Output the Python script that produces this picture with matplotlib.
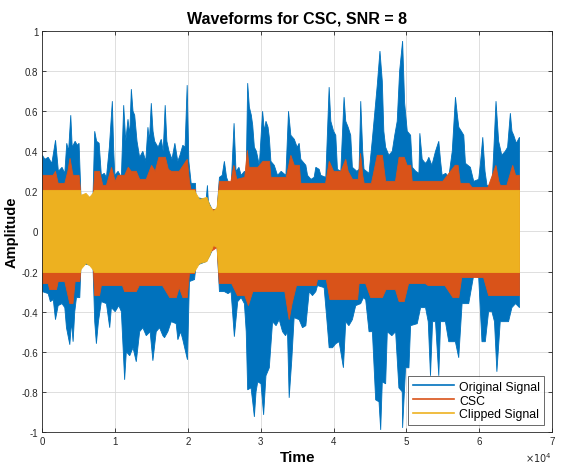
import matplotlib
matplotlib.use('Agg')
import matplotlib.pyplot as plt
from matplotlib.lines import Line2D

# envelope knots (sample index, amplitude)
orig_top_x = [0, 350, 800, 1300, 1810, 2200, 2700, 3080, 3350, 3600, 3900, 4100, 4500, 4800, 5040, 5230, 5300,
              6950, 7190, 7450, 7800, 8100, 8500, 8800, 9200, 9610, 9800, 9950, 10400, 10850, 11170, 11450,
              11760, 12000, 12220, 12450, 12680, 13000, 13360, 13800, 14200, 14500, 14700, 14960, 15200, 15420,
              15900, 16330, 16600, 16870, 17100, 17400, 17800, 18200, 18600, 18900, 19290, 19600, 19890, 20120,
              20440, 21030, 21100, 22500, 22670, 22800, 23300, 24000, 24320, 24700, 25000, 25300, 25700, 25950,
              26330, 26600, 27000, 27300, 27750, 28000, 28200, 28430, 28700, 28890, 29120, 29400, 29800, 30250,
              30500, 30710, 31000, 31170, 31390, 31850, 32300, 32800, 33450, 33810, 34130, 34600, 35000, 35270,
              35500, 36190, 36420, 36900, 37330, 37560, 38020, 38250, 38930, 39390, 39620, 40000, 40300, 40530,
              40990, 41440, 41670, 42000, 42350, 42580, 43200, 43500, 43730, 44000, 44180, 44870, 45300, 45550,
              46000, 46370, 46690, 46900, 47150, 47600, 48060, 48400, 48740, 49070, 49480, 49760, 50120, 50580,
              50810, 51300, 51720, 51850, 52170, 52600, 52850, 53080, 53500, 54000, 54450, 54700, 54910, 55400,
              55820, 56300, 56740, 57000, 57200, 57550, 57880, 58110, 58790, 59250, 59930, 60200, 60490, 60800,
              61070, 61750, 62000, 62310, 62670, 63100, 63580, 63900, 64280, 64500, 64740, 65100, 65536]
orig_top_y = [0.38, 0.36, 0.37, 0.34, 0.455, 0.30, 0.32, 0.29, 0.44, 0.40, 0.58, 0.42, 0.45, 0.43, 0.44, 0.25, 0.17,
              0.17, 0.50, 0.45, 0.44, 0.28, 0.29, 0.27, 0.42, 0.65, 0.40, 0.28, 0.30, 0.27, 0.63, 0.45,
              0.56, 0.48, 0.71, 0.60, 0.58, 0.45, 0.37, 0.40, 0.35, 0.52, 0.45, 0.64, 0.50, 0.45,
              0.42, 0.46, 0.40, 0.63, 0.45, 0.40, 0.36, 0.44, 0.35, 0.38, 0.43, 0.42, 0.73, 0.35,
              0.24, 0.24, 0.17, 0.16, 0.23, 0.15, 0.11, 0.11, 0.27, 0.28, 0.35, 0.27, 0.23, 0.24,
              0.54, 0.30, 0.32, 0.28, 0.30, 0.29, 0.74, 0.62, 0.58, 0.53, 0.42, 0.40, 0.33, 0.60,
              0.50, 0.55, 0.52, 0.47, 0.35, 0.33, 0.28, 0.30, 0.28, 0.60, 0.48, 0.46, 0.42, 0.44,
              0.36, 0.33, 0.28, 0.26, 0.27, 0.32, 0.31, 0.28, 0.27, 0.72, 0.55, 0.50, 0.48, 0.31,
              0.30, 0.67, 0.55, 0.52, 0.48, 0.32, 0.30, 0.31, 0.65, 0.40, 0.31, 0.29, 0.45, 0.55,
              0.73, 0.90, 0.75, 0.50, 0.42, 0.38, 0.40, 0.48, 0.55, 0.80, 0.95, 0.64, 0.50, 0.48,
              0.32, 0.30, 0.29, 0.49, 0.36, 0.34, 0.35, 0.37, 0.33, 0.40, 0.45, 0.35, 0.28, 0.29,
              0.27, 0.40, 0.67, 0.58, 0.52, 0.50, 0.48, 0.34, 0.32, 0.25, 0.26, 0.35, 0.47, 0.30,
              0.23, 0.22, 0.40, 0.65, 0.45, 0.38, 0.40, 0.42, 0.59, 0.50, 0.48, 0.44, 0.47]

orig_bot_x = [0, 800, 1100, 1500, 1800, 2170, 2700, 3080, 3310, 3770, 4000, 4220, 4450, 4680, 5140, 5250, 5300,
              6950, 7190, 7420, 7700, 8100, 8800, 9250, 9480, 10000, 10500, 10850, 11300, 11530, 12000, 12450,
              12900, 13360, 13800, 14270, 14800, 15180, 15640, 16100, 16550, 16780, 17240, 17700, 18380, 18610,
              19000, 19290, 19930, 20200, 20900, 21100, 22500, 23000, 23500, 24000, 24320, 25000, 25500, 25920,
              26370, 26830, 27300, 27750, 28000, 28200, 28660, 28890, 29120, 29350, 29580, 30030, 30390, 30710,
              31170, 31620, 32100, 32530, 32990, 33400, 33670, 33900, 34260, 34580, 35270, 35730, 36190, 36650,
              37100, 37560, 37790, 38700, 39100, 39390, 39850, 40300, 40760, 41350, 41670, 42100, 42580, 43040,
              43720, 44100, 44410, 44870, 45330, 45780, 46240, 46470, 46690, 47150, 47380, 48000, 48520, 48970,
              49430, 49480, 49890, 50350, 50580, 51490, 51950, 52630, 53000, 53310, 53600, 54000, 54450, 54700,
              55360, 55820, 56730, 57190, 57650, 58560, 59240, 59930, 60380, 60840, 61290, 61750, 62100, 62430,
              62890, 64030, 64490, 65000, 65536]
orig_bot_y = [-0.30, -0.31, -0.35, -0.34, -0.44, -0.37, -0.36, -0.38, -0.48, -0.565, -0.45, -0.55, -0.40, -0.33,
              -0.33, -0.22, -0.16, -0.17, -0.45, -0.56, -0.45, -0.35, -0.36, -0.48, -0.38, -0.40, -0.37, -0.40,
              -0.74, -0.60, -0.62, -0.58, -0.65, -0.50, -0.48, -0.52, -0.50, -0.645, -0.50, -0.48, -0.52, -0.53,
              -0.50, -0.45, -0.46, -0.54, -0.50, -0.54, -0.64, -0.25, -0.24, -0.17, -0.15, -0.12, -0.08, -0.08,
              -0.30, -0.30, -0.31, -0.30, -0.525, -0.35, -0.33, -0.36, -0.50, -0.79, -0.78, -0.85, -0.925, -0.80,
              -0.75, -0.76, -0.915, -0.72, -0.68, -0.45, -0.47, -0.44, -0.50, -0.52, -0.50, -0.83, -0.64, -0.43,
              -0.44, -0.48, -0.47, -0.30, -0.32, -0.30, -0.27, -0.28, -0.45, -0.58, -0.58, -0.56, -0.55, -0.68,
              -0.45, -0.47, -0.44, -0.37, -0.36, -0.33, -0.34, -0.50, -0.50, -0.84, -0.85, -0.99, -0.75, -0.76,
              -0.50, -0.52, -0.50, -0.78, -0.80, -0.98, -0.68, -0.68, -0.47, -0.46, -0.38, -0.38, -0.45, -0.72,
              -0.45, -0.45, -0.72, -0.45, -0.45, -0.55, -0.55, -0.63, -0.36, -0.36, -0.22, -0.23, -0.55, -0.55,
              -0.40, -0.40, -0.45, -0.70, -0.45, -0.45, -0.38, -0.36, -0.38]

csc_top_x = [0, 1480, 1800, 2170, 3080, 3500, 3800, 4100, 4220, 5040, 5230, 5300, 6950, 7190, 7860, 8300, 8800,
             9500, 10000, 10400, 11300, 11800, 12200, 12900, 13360, 14270, 15000, 15500, 16000, 16900, 17300,
             17700, 18800, 19900, 20200, 20400, 21000, 21100, 24000, 24320, 25900, 26300, 26700, 27800, 28150,
             28400, 29600, 30300, 31200, 31400, 33500, 34130, 34600, 35300, 35500, 38900, 39400, 40000, 41000,
             41670, 42000, 42600, 43400, 43700, 44000, 44200, 45200, 46000, 46700, 47150, 48500, 49000, 49700,
             50100, 50600, 50800, 55000, 56700, 57100, 57400, 58600, 59000, 61200, 62300, 62700, 62900, 63800,
             64600, 65000, 65536]
csc_top_y = [0.28, 0.28, 0.30, 0.24, 0.24, 0.30, 0.365, 0.30, 0.28, 0.28, 0.21, 0.15, 0.15, 0.30, 0.30, 0.23, 0.23,
             0.32, 0.25, 0.28, 0.28, 0.32, 0.30, 0.30, 0.26, 0.26, 0.33, 0.30, 0.37, 0.37, 0.31,
             0.30, 0.30, 0.36, 0.25, 0.21, 0.21, 0.15, 0.10, 0.25, 0.25, 0.33, 0.26, 0.27, 0.405,
             0.32, 0.32, 0.35, 0.35, 0.27, 0.27, 0.38, 0.33, 0.33, 0.24, 0.24, 0.35, 0.30, 0.30,
             0.36, 0.30, 0.26, 0.26, 0.39, 0.28, 0.24, 0.24, 0.38, 0.38, 0.25, 0.25, 0.37, 0.37,
             0.33, 0.33, 0.25, 0.25, 0.33, 0.33, 0.24, 0.24, 0.22, 0.22, 0.33, 0.25, 0.23, 0.23,
             0.33, 0.28, 0.28]

csc_bot_x = [0, 800, 1000, 1940, 2170, 3080, 3770, 4200, 4500, 5140, 5250, 5300, 6950, 7190, 7860, 8100, 11000,
             11300, 12900, 13300, 16500, 17500, 18400, 18800, 19300, 19900, 20200, 20900, 21100, 24000, 24300,
             26000, 26800, 27800, 28300, 28900, 33300, 33900, 34300, 34900, 37600, 37800, 39000, 39500, 43300,
             43500, 44400, 45100, 46700, 47200, 48500, 49000, 49700, 50300, 52600, 53000, 55300, 56400, 57200,
             57600, 60600, 61300, 65536]
csc_bot_y = [-0.26, -0.26, -0.29, -0.29, -0.25, -0.25, -0.36, -0.36, -0.25, -0.25, -0.21, -0.15, -0.15, -0.32,
             -0.32, -0.27, -0.27, -0.30, -0.30, -0.27, -0.27, -0.33, -0.33, -0.28, -0.33, -0.33, -0.21, -0.21,
             -0.15, -0.08, -0.26, -0.26, -0.32, -0.32, -0.37, -0.30, -0.30, -0.44, -0.36, -0.27, -0.27, -0.24,
             -0.24, -0.34, -0.34, -0.26, -0.26, -0.33, -0.33, -0.29, -0.29, -0.35, -0.35, -0.26, -0.26, -0.27,
             -0.27, -0.33, -0.33, -0.23, -0.23, -0.32, -0.32]

clip_top_x = [0, 5230, 5300, 6000, 6500, 6950, 7190, 20900, 21100, 21600, 22600, 23000, 23500, 24000, 24250, 65536]
clip_top_y = [0.205, 0.205, 0.18, 0.19, 0.17, 0.19, 0.205, 0.205, 0.19, 0.16, 0.17, 0.13, 0.10, 0.12, 0.205, 0.205]
clip_bot_x = [0, 5230, 5300, 6000, 6500, 6950, 7190, 20900, 21100, 21600, 22600, 23000, 23500, 24000, 24250, 65536]
clip_bot_y = [-0.205, -0.205, -0.19, -0.16, -0.17, -0.19, -0.205, -0.205, -0.19, -0.16, -0.15, -0.12, -0.07,
              -0.08, -0.205, -0.205]

labels = ['Original Signal', 'CSC', 'Clipped Signal']
colors = ['#0072BD', '#D95319', '#EDB120']
x_ticks = [0, 10000, 20000, 30000, 40000, 50000, 60000, 70000]
x_tick_labels = ['0', '1', '2', '3', '4', '5', '6', '7']
y_ticks = [-1, -0.8, -0.6, -0.4, -0.2, 0, 0.2, 0.4, 0.6, 0.8, 1]
y_tick_labels = ['-1', '-0.8', '-0.6', '-0.4', '-0.2', '0', '0.2', '0.4', '0.6', '0.8', '1']

plt.rcParams['font.family'] = ['Liberation Sans', 'DejaVu Sans']

fig = plt.figure(figsize=(5.65, 4.64), dpi=100)
ax = fig.add_axes([0.075, 0.067, 0.902, 0.864])


def envelope(top_x, top_y, bot_x, bot_y, color):
    xs = list(top_x) + list(bot_x)[::-1]
    ys = list(top_y) + list(bot_y)[::-1]
    ax.fill(xs, ys, color=color, lw=0.6, ec=color, zorder=2)


envelope(orig_top_x, orig_top_y, orig_bot_x, orig_bot_y, colors[0])
envelope(csc_top_x, csc_top_y, csc_bot_x, csc_bot_y, colors[1])
envelope(clip_top_x, clip_top_y, clip_bot_x, clip_bot_y, colors[2])

ax.set_xlim(0, 70000)
ax.set_ylim(-1, 1)
ax.set_xticks(x_ticks)
ax.set_xticklabels(x_tick_labels)
ax.set_yticks(y_ticks)
ax.set_yticklabels(y_tick_labels)
ax.tick_params(direction='in', length=3, width=0.6, labelsize=7, colors='#262626',
               top=True, right=True, pad=3)
ax.grid(True, color='#d9d9d9', lw=0.6, zorder=0)
ax.set_axisbelow(True)
for s in ax.spines.values():
    s.set_color('#262626')
    s.set_linewidth(0.6)

ax.set_title('Waveforms for CSC, SNR = 8', fontsize=11.5, fontweight='bold', pad=6)
ax.set_xlabel('Time', fontsize=11, fontweight='bold', labelpad=3)
ax.set_ylabel('Amplitude', fontsize=10.5, fontweight='bold', labelpad=2)
ax.text(1.0, -0.045, r'$\times 10^{4}$', transform=ax.transAxes, fontsize=7,
        ha='right', va='top', color='#262626')

handles = [Line2D([0], [0], color=c, lw=1.2) for c in colors]
leg = ax.legend(handles, labels, loc='lower right', fontsize=8.8, frameon=True, fancybox=False,
                handlelength=3.4, borderpad=0.35, labelspacing=0.15, handletextpad=0.4,
                bbox_to_anchor=(0.985, 0.018), borderaxespad=0.0)
leg.get_frame().set_edgecolor('#262626')
leg.get_frame().set_linewidth(0.6)
leg.set_zorder(5)

fig.savefig('out.png', dpi=100)
